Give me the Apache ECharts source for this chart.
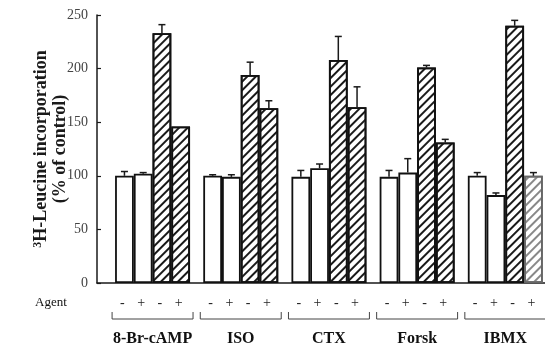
<!DOCTYPE html>
<html>
<head>
<meta charset="utf-8">
<script src="https://cdn.jsdelivr.net/npm/echarts@6/dist/echarts.min.js"></script>
<style>
html,body{margin:0;padding:0;background:#fff;}
#chart{width:545px;height:349px;}
</style>
</head>
<body>
<div id="chart"></div>
<script>
// ---- data ----
const categories = ['8-Br-cAMP', 'ISO', 'CTX', 'Forsk', 'IBMX'];
const agentSigns = ['-', '+', '-', '+'];
const yTicks = [0, 50, 100, 150, 200, 250];
// white bars (agent -, agent +)
const whiteMinus = [100, 100, 99, 99, 100];
const whitePlus = [102, 99, 107, 103, 82];
// hatched bars (agent -, agent +)
const hatchMinus = [233, 194, 208, 201, 240];
const hatchPlus = [146, 163, 164, 131, 100];
// error bar tops
const whiteMinusErr = [104, 101, 105, 105, 103];
const whitePlusErr = [103, 101, 111, 116, 84];
const hatchMinusErr = [241, 206, 230, 203, 245];
const hatchPlusErr = [146, 170, 183, 134, 103];

const serif = '"Liberation Serif", "DejaVu Serif", serif';
const seriesVals = [whiteMinus, whitePlus, hatchMinus, hatchPlus];
const seriesErrs = [whiteMinusErr, whitePlusErr, hatchMinusErr, hatchPlusErr];
const hatchDecal = (c) => ({
  symbol: 'rect', symbolSize: 1,
  dashArrayX: [1, 0], dashArrayY: [1.6, 3.2],
  rotation: -Math.PI / 4, color: c
});

const barSeries = seriesVals.map((vals, s) => {
  const itemStyle = { color: '#fff', borderColor: '#111', borderWidth: 1.8 };
  if (s >= 2) itemStyle.decal = hatchDecal('#1a1a1a');
  return {
    type: 'bar',
    barGap: '0%',
    barCategoryGap: '15%',
    data: vals.map((v, i) => {
      const item = { value: [i, v] };
      if (s === 3 && i === 4) {
        item.itemStyle = { borderColor: '#666', decal: hatchDecal('#888') };
      }
      return item;
    }),
    itemStyle,
    emphasis: { disabled: true },
    silent: true
  };
});

const errData = [];
seriesVals.forEach((vals, s) => vals.forEach((v, i) => {
  if (seriesErrs[s][i] > v) errData.push([i, s, v, seriesErrs[s][i]]);
}));

const chart = echarts.init(document.getElementById('chart'));
chart.setOption({
  animation: false,
  backgroundColor: '#fff',
  grid: { left: 97, right: 0, top: 15, bottom: 66, containLabel: false },
  xAxis: {
    type: 'value',
    min: -0.63, max: 4.45,
    splitLine: { show: false },
    axisLine: { show: true, onZero: false, lineStyle: { color: '#1a1a1a', width: 1.5 } },
    axisTick: { show: false },
    axisLabel: {
      show: true,
      customValues: categories.map((c, i) => i),
      formatter: (v) => categories[Math.round(v)] || '',
      margin: 48,
      fontFamily: serif, fontSize: 16, fontWeight: 'bold', color: '#111'
    }
  },
  yAxis: {
    type: 'value',
    min: yTicks[0], max: yTicks[yTicks.length - 1], interval: 50,
    splitLine: { show: false },
    axisLine: { show: true, onZero: false, lineStyle: { color: '#1a1a1a', width: 1.5 } },
    axisTick: { show: true, inside: true, length: 4, lineStyle: { color: '#1a1a1a', width: 1.2 } },
    axisLabel: { margin: 9, fontFamily: serif, fontSize: 14, color: '#444' },
    name: '{sup|3}H-Leucine incorporation\n(% of control)',
    nameLocation: 'middle',
    nameGap: 27,
    nameMoveOverlap: false,
    nameRotate: 90,
    nameTextStyle: {
      fontFamily: serif, fontSize: 18, fontWeight: 'bold', color: '#1a1a1a', lineHeight: 19,
      rich: { sup: { fontFamily: serif, fontSize: 12, fontWeight: 'bold', verticalAlign: 'top', padding: [0, 0, 8, 0] } }
    }
  },
  graphic: [{
    type: 'text', left: 35, top: 296,
    style: { text: 'Agent', font: '13px ' + serif, fill: '#111' }
  }],
  series: barSeries.concat([
    {
      type: 'custom',
      z: 5,
      silent: true,
      data: errData,
      encode: { x: 0, y: 3 },
      renderItem: (params, api) => {
        const c = api.value(0), s = api.value(1), v = api.value(2), e = api.value(3);
        const bw = api.size([1, 0])[0] * 0.85 / 4;
        const x = api.coord([c, 0])[0] + (s - 1.5) * bw;
        const y0 = api.coord([c, v])[1];
        const y1 = api.coord([c, e])[1];
        const st = { stroke: '#1a1a1a', lineWidth: 1.5 };
        return {
          type: 'group',
          children: [
            { type: 'line', shape: { x1: x, y1: y0, x2: x, y2: y1 }, style: st },
            { type: 'line', shape: { x1: x - 3.5, y1: y1, x2: x + 3.5, y2: y1 }, style: st }
          ]
        };
      }
    },
    {
      type: 'custom',
      z: 5,
      silent: true,
      clip: false,
      data: categories.map((c, i) => [i, 0]),
      encode: { x: 0, y: 1 },
      renderItem: (params, api) => {
        const c = api.value(0);
        const base = api.coord([c, 0]);
        const bw = api.size([1, 0])[0] * 0.85 / 4;
        const cx = base[0], y = base[1];
        const half = bw * 2 + 3;
        const children = agentSigns.map((sg, s) => ({
          type: 'text',
          style: {
            text: sg, x: cx + (s - 1.5) * bw - 2, y: y + 20,
            align: 'center', verticalAlign: 'middle',
            font: '14px ' + serif, fill: '#222'
          }
        }));
        children.push({
          type: 'polyline',
          shape: { points: [[cx - half, y + 29], [cx - half, y + 36], [cx + half, y + 36], [cx + half, y + 29]] },
          style: { stroke: '#444', lineWidth: 1, fill: null }
        });
        return { type: 'group', children };
      }
    }
  ])
});
</script>
</body>
</html>
